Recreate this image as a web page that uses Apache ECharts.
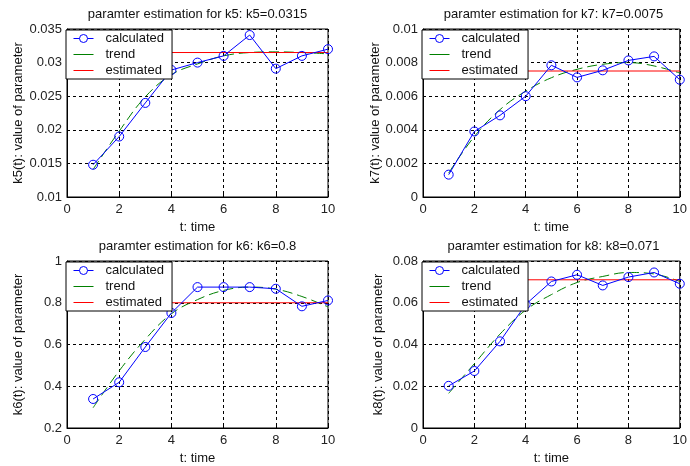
<!DOCTYPE html>
<html>
<head>
<meta charset="utf-8">
<script src="https://cdn.jsdelivr.net/npm/echarts@6/dist/echarts.min.js"></script>
<style>html,body{margin:0;padding:0;background:#fff;}#c{width:690px;height:466px;}</style>
</head>
<body>
<div id="c"></div>
<script>
var t = [1,2,3,4,5,6,7,8,9,10];
var k5Calc  = [0.0148,0.0190,0.0240,0.0289,0.0300,0.0310,0.0341,0.0291,0.0310,0.0320];
var k5Trend = [0.0141,0.0198,0.0249,0.0282,0.0298,0.0310,0.0315,0.0316,0.0315,0.0313];
var k5Est = 0.0315;
var k7Calc  = [0.00133,0.0039,0.00486,0.0060,0.00784,0.00712,0.00754,0.00813,0.00837,0.00698];
var k7Trend = [0.00143,0.0036,0.0052,0.0063,0.0071,0.0076,0.0079,0.0080,0.0078,0.00738];
var k7Est = 0.0075;
var k6Calc  = [0.339,0.419,0.588,0.751,0.875,0.875,0.875,0.867,0.783,0.811];
var k6Trend = [0.297,0.474,0.625,0.747,0.815,0.859,0.875,0.865,0.830,0.780];
var k6Est = 0.8;
var k8Calc  = [0.0202,0.0273,0.0415,0.0592,0.0702,0.0734,0.0683,0.0723,0.0745,0.0691];
var k8Trend = [0.0166,0.0308,0.0450,0.0565,0.0639,0.0697,0.0726,0.0745,0.0738,0.0702];
var k8Est = 0.071;

var titles = ['paramter estimation for k5: k5=0.0315','paramter estimation for k7: k7=0.0075','paramter estimation for k6: k6=0.8','paramter estimation for k8: k8=0.071'];
var yNames = ['k5(t): value of parameter','k7(t): value of parameter','k6(t): value of parameter','k8(t): value of parameter'];
var xName = 't: time';
var yRanges = [[0.01,0.035,0.005],[0,0.01,0.002],[0.2,1,0.2],[0,0.08,0.02]];
var calcs = [k5Calc,k7Calc,k6Calc,k8Calc];
var trends = [k5Trend,k7Trend,k6Trend,k8Trend];
var ests = [k5Est,k7Est,k6Est,k8Est];

var FONT = "'Liberation Sans', Arial, sans-serif";
var grids = [
  {left:67, top:29, width:261, height:168, yGap:42},
  {left:423, top:29, width:261, height:168, yGap:38},
  {left:67, top:261, width:261, height:168, yGap:42},
  {left:423, top:261, width:261, height:168, yGap:38}
];
var option = {
  animation:false,
  backgroundColor:'#fff',
  title:[], grid:[], xAxis:[], yAxis:[], legend:[], series:[]
};
grids.forEach(function(g,i){
  option.grid.push({left:g.left, top:g.top, width:g.width, height:g.height, show:true, borderColor:'#000', borderWidth:1, backgroundColor:'transparent'});
  option.title.push({text:titles[i], left:g.left+g.width/2, top:g.top-21, textAlign:'center', padding:0,
    textStyle:{fontSize:13, fontWeight:'normal', color:'#111', fontFamily:FONT}});
  option.xAxis.push({type:'value', gridIndex:i, min:0, max:10, interval:2,
    name:xName, nameLocation:'middle', nameGap:24,
    nameTextStyle:{fontSize:13, color:'#111', fontFamily:FONT},
    axisLine:{show:true, lineStyle:{color:'#000', width:1}},
    axisTick:{show:true, inside:true, length:3, lineStyle:{color:'#000'}},
    axisLabel:{fontSize:13, color:'#222', margin:6, fontFamily:FONT},
    splitLine:{show:true, lineStyle:{color:'#000', type:[3,3], width:1}}
  });
  var r = yRanges[i];
  option.yAxis.push({type:'value', gridIndex:i, min:r[0], max:r[1], interval:r[2],
    name:yNames[i], nameLocation:'middle', nameGap:g.yGap, nameRotate:90,
    nameTextStyle:{fontSize:13, color:'#111', fontFamily:FONT},
    axisLine:{show:true, lineStyle:{color:'#000', width:1}},
    axisTick:{show:true, inside:true, length:3, lineStyle:{color:'#000'}},
    axisLabel:{fontSize:13, color:'#222', margin:5, fontFamily:FONT,
      formatter:function(v){return String(parseFloat(v.toPrecision(6)));}},
    splitLine:{show:true, lineStyle:{color:'#000', type:[3,3], width:1}}
  });
  option.legend.push({
    orient:'vertical', left:g.left-1, top:g.top+1,
    backgroundColor:'#fff', borderColor:'#000', borderWidth:1, borderRadius:0,
    padding:[2,8,2,7], itemGap:3, itemWidth:20, itemHeight:10,
    textStyle:{fontSize:13, color:'#111', fontFamily:FONT, padding:[0,0,0,7]},
    selectedMode:false,
    data:[
      {name:'calculated', itemStyle:{color:'#fff', borderColor:'#0000ff', borderWidth:1}, lineStyle:{color:'#0000ff', width:1}},
      {name:'trend', itemStyle:{opacity:0}, lineStyle:{type:'solid', color:'#008000', width:1}},
      {name:'estimated', itemStyle:{opacity:0}, lineStyle:{color:'#ff0000', width:1}}
    ]
  });
  var calcData = t.map(function(x,j){return [x, calcs[i][j]];});
  var trendData = t.map(function(x,j){return [x, trends[i][j]];});
  option.series.push({
    name:'calculated', type:'line', xAxisIndex:i, yAxisIndex:i, data:calcData,
    symbol:'circle', symbolSize:9, showSymbol:true,
    lineStyle:{color:'#0000ff', width:1},
    itemStyle:{color:'rgba(0,0,0,0)', borderColor:'#0000ff', borderWidth:1},
    z:3
  });
  option.series.push({
    name:'trend', type:'line', xAxisIndex:i, yAxisIndex:i, data:trendData,
    smooth:0.4, showSymbol:false, symbol:'none',
    lineStyle:{color:'#008000', width:1, type:[10,5]},
    itemStyle:{color:'#008000'},
    z:2
  });
  option.series.push({
    name:'estimated', type:'line', xAxisIndex:i, yAxisIndex:i,
    data:[[t[0], ests[i]],[t[t.length-1], ests[i]]],
    showSymbol:false, symbol:'none',
    lineStyle:{color:'#ff0000', width:1},
    itemStyle:{color:'#ff0000'},
    z:2
  });
});
var chart = echarts.init(document.getElementById('c'), null, {renderer:'canvas'});
chart.setOption(option);
</script>
</body>
</html>
